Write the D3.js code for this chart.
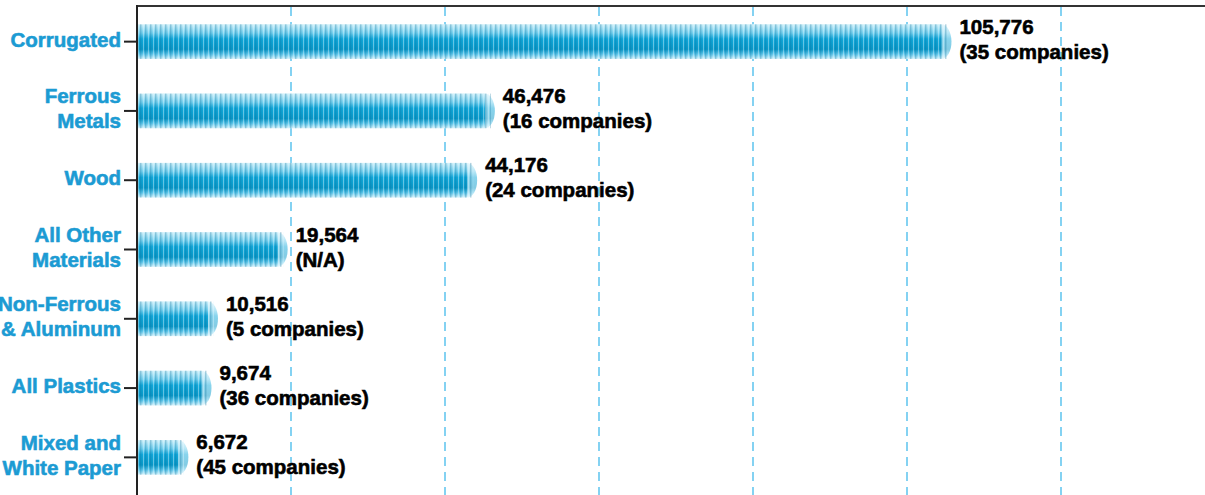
<!DOCTYPE html>
<html>
<head>
<meta charset="utf-8">
<script src="https://cdn.jsdelivr.net/npm/d3@7"></script>
<style>
  body { margin: 0; background: #fff; }
  svg { display: block; }
</style>
</head>
<body>
<div id="chart"></div>
<script>
// recycled tonnage by material
const categories = ["Corrugated", "Ferrous Metals", "Wood", "All Other Materials", "Non-Ferrous & Aluminum", "All Plastics", "Mixed and White Paper"]
const catLines = [["Corrugated"], ["Ferrous", "Metals"], ["Wood"], ["All Other", "Materials"], ["Non-Ferrous", "& Aluminum"], ["All Plastics"], ["Mixed and", "White Paper"]]
const tons = [105776, 46476, 44176, 19564, 10516, 9674, 6672]
const companies = ["(35 companies)", "(16 companies)", "(24 companies)", "(N/A)", "(5 companies)", "(36 companies)", "(45 companies)"]
const gridTicks = [20000, 40000, 60000, 80000, 100000, 120000]

const width = 1205
const height = 495
const left = 137
const font = "'Liberation Sans', Arial, sans-serif"

const svg = d3.select("#chart")
    .append("svg")
    .attr("width", width)
    .attr("height", height)

const x = d3.scaleLinear().domain([0, 140000]).range([left, left + 154 * 7])
const y = d3.scaleBand().domain(categories).range([7, 492])
    .paddingInner(0.5).paddingOuter(0.25)

// bar fill: light top, saturated middle, light bottom
const defs = svg.append("defs")
const grad = defs.append("linearGradient")
    .attr("id", "barGrad")
    .attr("x1", 0).attr("y1", 0).attr("x2", 0).attr("y2", 1)
grad.selectAll("stop")
    .data([[0, "#cdeff9"], [0.25, "#72cfee"], [0.42, "#10a8da"], [0.72, "#0898c8"], [0.86, "#5cc6ea"], [1, "#d4f1fa"]])
    .enter().append("stop")
    .attr("offset", d => d[0])
    .attr("stop-color", d => d[1])

const stripes = defs.append("pattern")
    .attr("id", "stripes")
    .attr("width", 5).attr("height", 6)
    .attr("patternUnits", "userSpaceOnUse")
stripes.append("rect").attr("width", 1.5).attr("height", 6).attr("fill", "#0b6f9a").attr("opacity", 0.3)
stripes.append("rect").attr("x", 3).attr("width", 1).attr("height", 6).attr("fill", "#e6f8ff").attr("opacity", 0.4)

// dashed gridlines
svg.selectAll(".grid")
    .data(gridTicks)
    .enter().append("line")
    .attr("x1", d => x(d)).attr("x2", d => x(d))
    .attr("y1", 7).attr("y2", height)
    .attr("stroke", "#5cc4ee")
    .attr("stroke-width", 1.5)
    .attr("stroke-dasharray", "9,6")

const rows = svg.selectAll(".row")
    .data(categories)
    .enter().append("g")

const bh = y.bandwidth()

// pale rounded end cap
rows.append("rect")
    .attr("x", left)
    .attr("y", d => y(d))
    .attr("width", (d, i) => x(tons[i]) - left)
    .attr("height", bh)
    .attr("rx", 10).attr("ry", bh / 2)
    .attr("fill", "url(#barGrad)")
    .attr("opacity", 0.5)

rows.append("rect")
    .attr("x", left)
    .attr("y", d => y(d))
    .attr("width", (d, i) => x(tons[i]) - left - 10)
    .attr("height", bh)
    .attr("fill", "url(#barGrad)")

rows.append("rect")
    .attr("x", left)
    .attr("y", d => y(d))
    .attr("width", (d, i) => x(tons[i]) - left - 4)
    .attr("height", bh)
    .attr("fill", "url(#stripes)")

// value labels
function boldText(sel) {
    return sel.style("font-family", font)
        .style("font-weight", "bold")
        .style("font-size", "20.5px")
        .attr("stroke-width", 0.6)
}

boldText(rows.append("text"))
    .attr("x", (d, i) => x(tons[i]) + 8)
    .attr("y", d => y(d) + bh / 2 - 8)
    .text((d, i) => d3.format(",")(tons[i]))
    .attr("fill", "#000").attr("stroke", "#000")

boldText(rows.append("text"))
    .attr("x", (d, i) => x(tons[i]) + 8)
    .attr("y", d => y(d) + bh / 2 + 17)
    .text((d, i) => companies[i])
    .attr("fill", "#000").attr("stroke", "#000")

// category labels and ticks
rows.append("line")
    .attr("x1", 124).attr("x2", left)
    .attr("y1", d => y(d) + bh / 2).attr("y2", d => y(d) + bh / 2)
    .attr("stroke", "#222").attr("stroke-width", 2)

rows.each(function (d, i) {
    const lines = catLines[i]
    const cy = y(d) + bh / 2
    const t = boldText(d3.select(this).append("text"))
        .attr("text-anchor", "end")
        .attr("fill", "#1c9bd3")
        .attr("stroke", "#1c9bd3")
    lines.forEach((ln, k) => {
        t.append("tspan")
            .attr("x", 121)
            .attr("y", cy + 5 + (k - (lines.length - 1) / 2) * 25)
            .text(ln)
    })
})

// frame: top border and left axis
svg.append("line")
    .attr("x1", left).attr("x2", width)
    .attr("y1", 6).attr("y2", 6)
    .attr("stroke", "#333").attr("stroke-width", 2)
svg.append("line")
    .attr("x1", left).attr("x2", left)
    .attr("y1", 5).attr("y2", height)
    .attr("stroke", "#222").attr("stroke-width", 2)
</script>
</body>
</html>
